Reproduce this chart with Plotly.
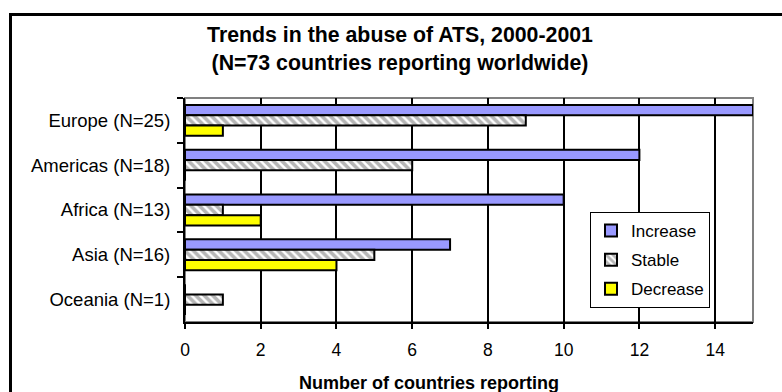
import plotly.graph_objects as go

# ---- data ----
regions = ["Europe (N=25)", "Americas (N=18)", "Africa (N=13)", "Asia (N=16)", "Oceania (N=1)"]
increase = [15, 12, 10, 7, 0]
stable = [9, 6, 1, 5, 1]
decrease = [1, 0, 2, 4, 0]
x_ticks = [0, 2, 4, 6, 8, 10, 12, 14]

W, H = 782, 392
ML, MR, MT, MB = 185, 29, 98, 70
PW, PH = W - ML - MR, H - MT - MB
FONT = "Liberation Sans, Arial, sans-serif"


def px(xp):
    return (xp - ML) / PW


def py(yp):
    return (H - MB - yp) / PH


fig = go.Figure()
fig.add_trace(go.Bar(
    y=regions, x=increase, name="Increase", orientation="h",
    marker=dict(color="#9999FF", line=dict(color="black", width=2)),
    legendgroup="a",
))
fig.add_trace(go.Bar(
    y=regions, x=stable, name="Stable", orientation="h",
    marker=dict(color="white", line=dict(color="black", width=2),
                pattern=dict(shape="\\", fgcolor="#6e6e6e", bgcolor="white",
                             size=6, solidity=0.6)),
    legendgroup="b",
))
fig.add_trace(go.Bar(
    y=regions, x=decrease, name="Decrease", orientation="h",
    marker=dict(color="#FFFF00", line=dict(color="black", width=2)),
    legendgroup="c",
))

shapes = [
    # plot area border (grey top/right)
    dict(type="rect", xref="paper", yref="paper", x0=0, x1=1, y0=0, y1=1,
         line=dict(color="#808080", width=2), layer="below"),
    # outer chart frame (cut off at right/bottom)
    dict(type="path", xref="paper", yref="paper",
         path=f"M {px(10.5)},{py(H + 20)} L {px(10.5)},{py(14.5)} L {px(W + 20)},{py(14.5)}",
         line=dict(color="black", width=3)),
]

fig.update_layout(
    width=W, height=H,
    margin=dict(l=ML, r=MR, t=MT, b=MB),
    paper_bgcolor="white", plot_bgcolor="white",
    font=dict(family=FONT, size=17, color="black"),
    barmode="group", bargap=0.31, bargroupgap=0,
    title=dict(text="<b>Trends in the abuse of ATS, 2000-2001<br>(N=73 countries reporting worldwide)</b>",
               x=400 / W, xanchor="center", xref="container",
               y=1 - 42 / H, yanchor="middle", yref="container",
               font=dict(size=21.3, family=FONT, color="black")),
    xaxis=dict(range=[0, 15], tickvals=x_ticks, showgrid=True, gridcolor="black",
               gridwidth=2, showline=True, linecolor="black", linewidth=2,
               ticks="outside", ticklen=5, tickwidth=2, tickcolor="black",
               zeroline=False, ticklabelstandoff=6, fixedrange=True,
               tickfont=dict(size=17.5)),
    yaxis=dict(type="category", autorange="reversed", showgrid=False,
               showline=True, linecolor="black", linewidth=2,
               ticks="outside", tickson="boundaries", ticklen=6, tickwidth=2,
               tickcolor="black", ticklabelstandoff=9, zeroline=False,
               tickfont=dict(size=18.5), fixedrange=True),
    legend=dict(x=px(590), y=py(212), xanchor="left", yanchor="top",
                bgcolor="white", bordercolor="black", borderwidth=1,
                font=dict(size=17), traceorder="grouped", tracegroupgap=4),
    shapes=shapes,
    annotations=[dict(text="<b>Number of countries reporting</b>", xref="paper", yref="paper",
                      x=px(429), y=py(383), xanchor="center", yanchor="middle",
                      showarrow=False, font=dict(size=18, family=FONT))],
)

fig.write_html("out.html", post_script="document.body.style.margin='0';",
               config={"displayModeBar": False})
